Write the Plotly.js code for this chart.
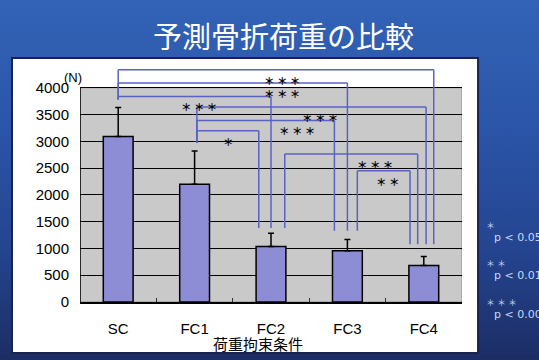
<!DOCTYPE html>
<html><head><meta charset="utf-8">
<script src="https://cdn.plot.ly/plotly-3.0.1.min.js"></script>
<style>
html,body{margin:0;padding:0;width:539px;height:360px;overflow:hidden;
background:linear-gradient(to bottom,#3263b6 0%,#2b55a9 35%,#24448f 70%,#1c2d64 100%);}
#chart{width:539px;height:360px;}
</style></head><body>
<div id="chart"></div>
<script>
// ---- data ----
const categories = ['SC','FC1','FC2','FC3','FC4'];
const means = [3090, 2200, 1035, 955, 680];
const sdUpper = [540, 620, 250, 210, 170];
const yTicks = [0,500,1000,1500,2000,2500,3000,3500,4000];
// significance brackets: [fromIndex, toIndex, label]
const bracketFrom = [0, 0, 0, 1, 1, 1, 2, 3];
const bracketTo   = [4, 3, 2, 4, 3, 2, 4, 4];
const bracketLabel = ['＊ ＊ ＊','＊ ＊ ＊','＊ ＊ ＊','＊ ＊ ＊','＊ ＊ ＊','＊','＊ ＊ ＊','＊ ＊'];
const bracketLevel = [4336, 4088, 3837, 3639, 3389, 3196, 2761, 2449];
const legEnd = [3780, 2970, 1380, 1330, 1080];
const pLegendStars = ['＊','＊ ＊','＊ ＊ ＊'];
const pLegendText = ['p < 0.05','p < 0.01','p < 0.001'];

// ---- style / layout helpers ----
const startOff = [0, 0, 0, 0.03, 0.03, 0.03, 0.18, 0.13];
const endOff   = [0.13, 0, 0, 0.03, -0.17, -0.16, -0.08, -0.18];
const labelX   = [2.14, 2.14, 1.06, 2.64, 2.34, 1.44, 3.36, 3.53];
const bracketColor = '#5a62c4';

const shapes = [];
// white slide panel
shapes.push({type:'rect', xref:'paper', yref:'paper', x0:-0.178, x1:1.042, y0:-0.2125, y1:1.0167,
  fillcolor:'#ffffff', line:{color:'#1a2350', width:2}, layer:'below'});
// gray plot area
shapes.push({type:'rect', xref:'x', yref:'y', x0:-0.5, x1:4.5, y0:0, y1:4000,
  fillcolor:'#c9c9c9', line:{color:'#8a8a8a', width:1}, layer:'below'});
// left axis line
shapes.push({type:'line', xref:'x', yref:'y', x0:-0.5, x1:-0.5, y0:0, y1:4000,
  line:{color:'#000', width:1.5}, layer:'above'});

const annotations = [];
for (let i = 0; i < bracketFrom.length; i++) {
  const xa = bracketFrom[i] + startOff[i];
  const xb = bracketTo[i] + endOff[i];
  const lv = bracketLevel[i];
  const ln = {color:bracketColor, width:1.5};
  shapes.push({type:'line', xref:'x', yref:'y', x0:xa, x1:xb, y0:lv, y1:lv, line:ln});
  shapes.push({type:'line', xref:'x', yref:'y', x0:xa, x1:xa, y0:lv, y1:legEnd[bracketFrom[i]], line:ln});
  shapes.push({type:'line', xref:'x', yref:'y', x0:xb, x1:xb, y0:lv, y1:legEnd[bracketTo[i]], line:ln});
  annotations.push({xref:'x', yref:'y', x:labelX[i], y:lv, text:bracketLabel[i], showarrow:false,
    yanchor:'top', yshift:-1, font:{family:'Noto Sans CJK JP', size:10.5, color:'#000', weight:'bold'}});
}
// title
annotations.push({xref:'paper', yref:'paper', x:0.534, y:1.1125, text:'予測骨折荷重の比較', showarrow:false,
  xanchor:'center', yanchor:'middle', font:{family:'Noto Sans CJK JP', size:29, color:'#ffffff'}});
// unit
annotations.push({xref:'paper', yref:'paper', x:-0.018, y:0.9375, text:'(N)', showarrow:false,
  xanchor:'center', yanchor:'middle', font:{family:'Liberation Sans', size:13, color:'#000'}});
// x axis title
annotations.push({xref:'paper', yref:'paper', x:0.466, y:-0.171, text:'荷重拘束条件', showarrow:false,
  xanchor:'center', yanchor:'middle', font:{family:'Noto Sans CJK JP', size:15, color:'#000'}});
// p-value legend
const legY = [0.27, 0.11, -0.05];
for (let i = 0; i < pLegendStars.length; i++) {
  annotations.push({xref:'paper', yref:'paper', x:1.058, y:legY[i] + 0.05, text:pLegendStars[i], showarrow:false,
    xanchor:'left', yanchor:'middle', font:{family:'Noto Sans CJK JP', size:9, color:'#c9d8f6'}});
  annotations.push({xref:'paper', yref:'paper', x:1.078, y:legY[i], text:pLegendText[i], showarrow:false,
    xanchor:'left', yanchor:'middle', font:{family:'DejaVu Sans', size:11, color:'#c9d8f6'}});
}

const trace = {
  type:'bar', x:categories, y:means, width:0.39,
  marker:{color:'#8d8dd6', line:{color:'#000', width:1.5}},
  error_y:{type:'data', array:sdUpper, arrayminus:means.map(()=>0), symmetric:false,
    color:'#000', thickness:1.5, width:3},
  hoverinfo:'none'
};

const layout = {
  width:539, height:360,
  margin:{l:80, r:77, t:62, b:58},
  paper_bgcolor:'rgba(0,0,0,0)', plot_bgcolor:'rgba(0,0,0,0)',
  showlegend:false,
  xaxis:{type:'category', range:[-0.5,4.5], tickson:'boundaries', ticks:'inside', ticklen:4,
    tickcolor:'#333', tickwidth:1, showgrid:false, showline:true, linecolor:'#000', linewidth:1.5,
    tickfont:{family:'Liberation Sans', size:15, color:'#000'}, ticklabelstandoff:12, zeroline:false},
  yaxis:{range:[0,4480], tickvals:yTicks, ticktext:yTicks.map(String), showgrid:true, gridcolor:'#000',
    gridwidth:1, showline:false, zeroline:false, ticks:'',
    tickfont:{family:'Liberation Sans', size:15, color:'#000'}, ticklabelstandoff:10},
  shapes:shapes, annotations:annotations
};

Plotly.newPlot('chart', [trace], layout, {displayModeBar:false, staticPlot:true});
</script>
</body></html>
